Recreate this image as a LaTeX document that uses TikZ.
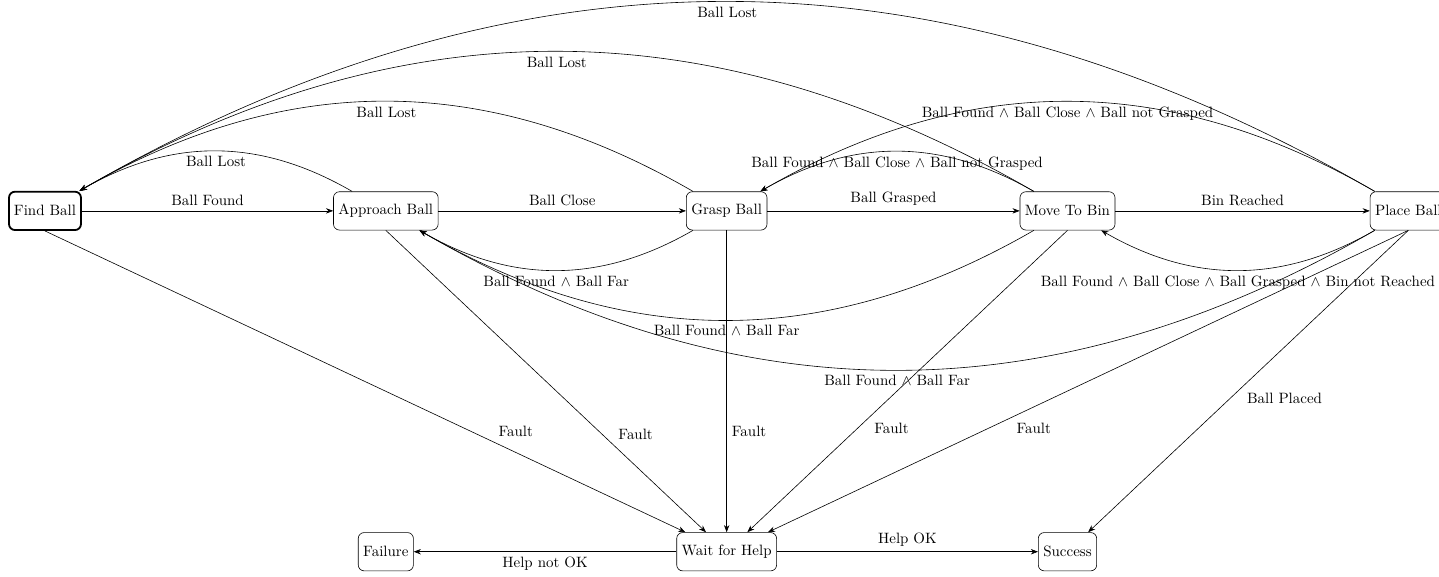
\documentclass[tikz,border=0pt]{standalone}
\usepackage{amsmath, amssymb}
\usepackage{tikz}
\usetikzlibrary{arrows.meta, positioning}

\begin{document}
\begin{tikzpicture}[
    node distance=8cm, on grid, auto,
    box/.style={rectangle, rounded corners=4pt, draw, minimum height=0.9cm,
                text centered},
    startbox/.style={box, very thick},
    arr/.style={-Stealth}
  ]
    \useasboundingbox (-1.056,-8.57) rectangle (32.72,4.95);

    \node[startbox] (find) {Find Ball};
    \node[box, right=of find]     (approach) {Approach Ball};
    \node[box, right=of approach] (grasp)    {Grasp Ball};
    \node[box, right=of grasp]    (move)     {Move To Bin};
    \node[box, right=of move]     (place)    {Place Ball};
    \node[box, below=of grasp]    (wait)     {Wait for Help};
    \node[box, left=of wait]      (failure)  {Failure};
    \node[box, right=of wait]     (success)  {Success};

    % forward
    \draw[arr] (find)     -- node{Ball Found}   (approach);
    \draw[arr] (approach) -- node{Ball Close}   (grasp);
    \draw[arr] (grasp)    -- node{Ball Grasped} (move);
    \draw[arr] (move)     -- node{Bin Reached}  (place);

    % ball lost
    \draw[arr] (approach) to[bend right] node{Ball Lost} (find);
    \draw[arr] (grasp)    to[bend right] node{Ball Lost} (find);
    \draw[arr] (move)     to[bend right] node{Ball Lost} (find);
    \draw[arr] (place)    to[bend right] node{Ball Lost} (find);

    % back to grasp
    \draw[arr] (move)  to[bend right] node{Ball Found $\land$ Ball Close $\land$ Ball not Grasped} (grasp);
    \draw[arr] (place) to[bend right] node{Ball Found $\land$ Ball Close $\land$ Ball not Grasped} (grasp);

    % back to approach / move
    \draw[arr] (grasp) to[bend left] node{Ball Found $\land$ Ball Far} (approach);
    \draw[arr] (move)  to[bend left] node{Ball Found $\land$ Ball Far} (approach);
    \draw[arr] (place) to[bend left] node{Ball Found $\land$ Ball Far} (approach);
    \draw[arr] (place) to[bend left] node{Ball Found $\land$ Ball Close $\land$ Ball Grasped $\land$ Bin not Reached} (move);

    % faults
    \draw[arr] (find.south)     -- node[pos=0.7]{Fault}   (wait);
    \draw[arr] (approach.south) -- node[pos=0.71]{Fault}  (wait);
    \draw[arr] (grasp.south)    -- node[pos=0.667]{Fault} (wait);
    \draw[arr] (move.south)     -- node[pos=0.62]{Fault}  (wait);
    \draw[arr] (place.south)    -- node[pos=0.62]{Fault}  (wait);

    \draw[arr] (place.south) -- node[pos=0.52]{Ball Placed} (success);
    \draw[arr] (wait)  -- node{Help OK}     (success);
    \draw[arr] (wait)  -- node{Help not OK} (failure);

  \end{tikzpicture}
\end{document}
